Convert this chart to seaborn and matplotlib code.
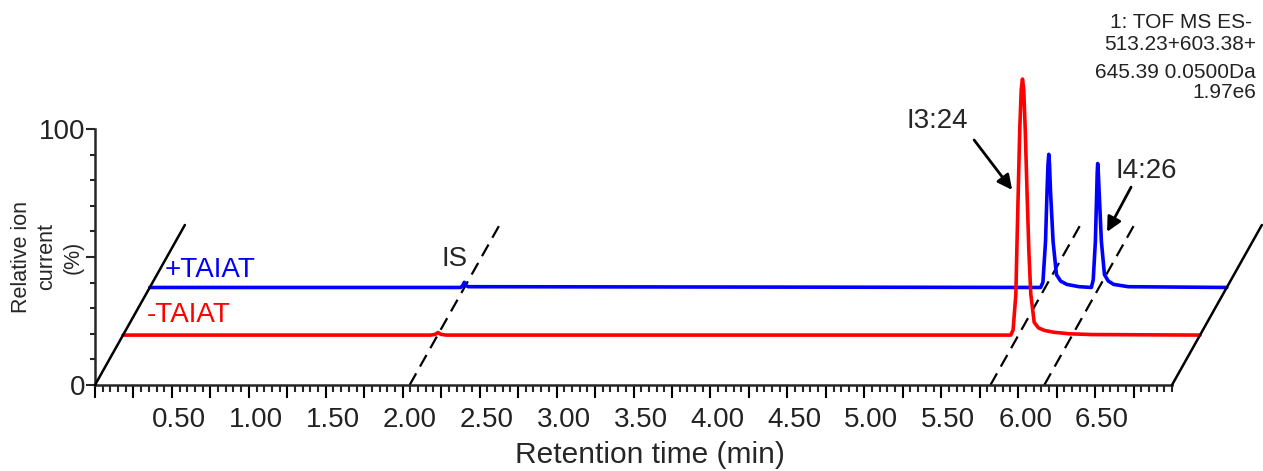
import matplotlib
matplotlib.use('Agg')
import matplotlib.pyplot as plt
import matplotlib.transforms as mtransforms
from matplotlib.ticker import MultipleLocator, FixedLocator
import pandas as pd
import seaborn as sns

# chromatogram traces (time in min, relative ion current in %)
red_time = [0.00, 2.00, 2.03, 2.047, 2.065, 2.10, 5.77, 5.785, 5.803, 5.810, 5.818, 5.828,
            5.838, 5.846, 5.854, 5.864, 5.876, 5.888, 5.900, 5.922, 5.95, 5.99, 6.05, 6.15, 6.30, 7.00]
red_signal = [0, 0, 0.3, 1.0, 0.3, 0, 0, 2, 16, 35, 55, 80,
              96, 100, 96, 80, 55, 32, 16, 5, 2.8, 1.8, 1.1, 0.5, 0.2, 0]

blue_time = [0.00, 2.02, 2.035, 2.044, 2.055, 2.07, 5.79, 5.805, 5.822, 5.832, 5.838, 5.843,
             5.848, 5.854, 5.871, 5.893, 5.92, 5.96, 6.04, 6.12, 6.132, 6.146, 6.155, 6.158,
             6.161, 6.165, 6.170, 6.185, 6.205, 6.23, 6.265, 6.36, 7.00]
blue_signal = [0, 0, 0.8, 2.0, 0.8, 0.3, 0, 2, 18, 38, 48, 52,
               48, 38, 18, 5, 2.5, 1.2, 0.3, 0, 3, 18, 38, 45,
               48.4, 45, 38, 18, 5, 2.5, 1.2, 0.3, 0]

trace_names = ['+TAIAT', '-TAIAT']
trace_colors = ['#0000ff', '#ff0000']
trace_lift = [38.1, 19.5]          # vertical stacking of each trace (%)

# pseudo-3D slant
slant_height = 62.5
slant_per_pct = 0.584 / 62.5       # min of shift per % of lift
x_end = 7.0

marker_times = [2.045, 5.82, 6.17]  # IS, I3:24, I4:26

header = ['1: TOF MS ES-', '513.23+603.38+', '645.39 0.0500Da', '1.97e6']

rows = []
for name, lift, t, s in [('+TAIAT', trace_lift[0], blue_time, blue_signal),
                         ('-TAIAT', trace_lift[1], red_time, red_signal)]:
    for ti, si in zip(t, s):
        rows.append({'trace': name, 'x': ti + lift * slant_per_pct, 'y': si + lift})
df = pd.DataFrame(rows)

sns.set_style('ticks')
plt.rcParams['font.family'] = ['Liberation Sans', 'DejaVu Sans']

fig = plt.figure(figsize=(12.63, 4.71), dpi=100)
ax = fig.add_axes([95 / 1263, 86 / 471, 1077 / 1263, 256 / 471])

# slanted frame lines and dashed guide lines
for x0 in [0.0, x_end]:
    ax.plot([x0, x0 + slant_height * slant_per_pct], [0, slant_height],
            color='black', lw=1.8, clip_on=False, zorder=3)
for x0 in marker_times:
    ax.plot([x0, x0 + slant_height * slant_per_pct], [0, slant_height],
            color='black', lw=1.6, ls=(0, (6, 3.5)), clip_on=False, zorder=1)

sns.lineplot(data=df, x='x', y='y', hue='trace', hue_order=trace_names,
             palette=dict(zip(trace_names, trace_colors)), estimator=None, sort=False,
             lw=2.6, legend=False, ax=ax, zorder=2)
for line in ax.lines:
    line.set_clip_on(False)

ax.set_xlim(0, x_end)
ax.set_ylim(0, 100)
sns.despine(ax=ax)
ax.spines['left'].set_bounds(0, 100)
ax.spines['left'].set_linewidth(1.8)
ax.spines['bottom'].set_linewidth(1.8)

ax.xaxis.set_major_locator(FixedLocator([i * 0.25 for i in range(28)]))
ax.set_xticklabels(['%.2f' % (i * 0.25) if (i % 2 == 0 and i > 0) else '' for i in range(28)])
ax.xaxis.set_minor_locator(MultipleLocator(0.05))
ax.yaxis.set_major_locator(FixedLocator([0, 50, 100]))
ax.set_yticklabels(['0', '', '100'])
ax.yaxis.set_minor_locator(MultipleLocator(10))
ax.tick_params(axis='x', which='major', length=9, width=1.5, labelsize=20, pad=7, colors='black')
ax.tick_params(axis='x', which='minor', length=5, width=1.5)
ax.tick_params(axis='y', which='major', length=6.5, width=1.5, labelsize=20, pad=0.5)
ax.tick_params(axis='y', which='minor', length=3.6, width=1.5)
shift = mtransforms.ScaledTranslation(0.07, 0, fig.dpi_scale_trans)
for lab in ax.get_xticklabels():
    lab.set_transform(lab.get_transform() + shift)
    lab.set_color('#222222')
for lab in ax.get_yticklabels():
    lab.set_color('#222222')

ax.set_xlabel('Retention time (min)', fontsize=21.5)
ax.xaxis.set_label_coords(0.515, -0.218)
ax.set_ylabel('Relative ion\ncurrent\n(%)', fontsize=15.5, linespacing=1.3)
ax.yaxis.set_label_coords(-0.0445, 0.5)
ax.yaxis.label.set_va('center')

ax.text(0.455, 44.9, '+TAIAT', color=trace_colors[0], fontsize=20, ha='left', va='center')
ax.text(0.338, 27.3, '-TAIAT', color=trace_colors[1], fontsize=20, ha='left', va='center')
ax.text(2.338, 49.2, 'IS', fontsize=20, ha='center', va='center')

arrow = dict(arrowstyle='-|>', mutation_scale=22, lw=2, color='black', shrinkA=0, shrinkB=0)
ax.annotate('', xy=(5.961, 76.2), xytext=(5.714, 95.7), arrowprops=arrow, annotation_clip=False)
ax.text(5.474, 103.1, 'I3:24', fontsize=20, ha='center', va='center')
ax.annotate('', xy=(6.578, 59.8), xytext=(6.734, 77.3), arrowprops=arrow, annotation_clip=False)
ax.text(6.831, 83.6, 'I4:26', fontsize=20, ha='center', va='center')

for txt, xr, yc in zip(header, [1252, 1256, 1256, 1256], [22, 45, 73, 92]):
    fig.text(xr / 1263, 1 - yc / 471, txt, fontsize=15, ha='right', va='center', color='#222222')

fig.savefig('out.png', dpi=100)
